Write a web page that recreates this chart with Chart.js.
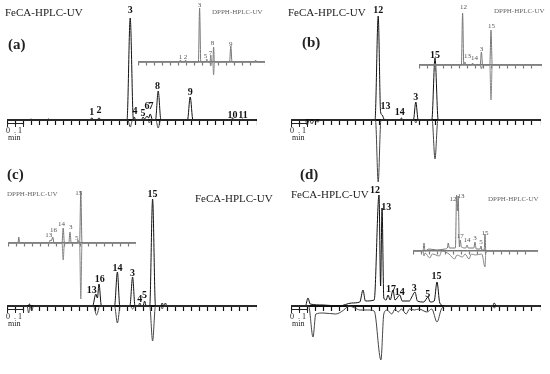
<!DOCTYPE html>
<html>
<head>
<meta charset="utf-8">
<script src="https://cdn.jsdelivr.net/npm/chart.js@4.4.1/dist/chart.umd.min.js"></script>
<style>
body{margin:0;background:#fff;width:550px;height:374px;position:relative;overflow:hidden;font-family:"Liberation Serif","Times New Roman",serif;}
.box{position:absolute;}
.t{position:absolute;white-space:nowrap;line-height:1;color:#222;}
.feca{font-size:11px;}
.dpph{font-size:7px;color:#666;}
.pan{font-size:15px;font-weight:bold;}
.bar{position:absolute;width:15px;height:3px;border:1px solid #222;border-bottom:none;}
.bar:after{content:"";position:absolute;left:7px;top:0;width:1px;height:3px;background:#222;}
.sm{position:absolute;font-size:8px;line-height:1;color:#222;}
</style>
</head>
<body>
<canvas id="aMain" class="box" width="250" height="180" style="left:7px;top:0"></canvas>
<canvas id="aInset" class="box" width="127" height="90" style="left:138px;top:0"></canvas>
<canvas id="bMain" class="box" width="250" height="200" style="left:291px;top:0"></canvas>
<canvas id="bInset" class="box" width="123" height="110" style="left:419px;top:0"></canvas>
<canvas id="cMain" class="box" width="250" height="194" style="left:7px;top:180px"></canvas>
<canvas id="cInset" class="box" width="128" height="130" style="left:8px;top:180px"></canvas>
<canvas id="dMain" class="box" width="250" height="194" style="left:291px;top:180px"></canvas>
<canvas id="dInset" class="box" width="125" height="100" style="left:413px;top:180px"></canvas>

<div class="t feca" style="left:5px;top:7px">FeCA-HPLC-UV</div>
<div class="t dpph" style="left:212px;top:9px">DPPH-HPLC-UV</div>
<div class="t pan" style="left:8px;top:37px">(a)</div>
<div class="t feca" style="left:288px;top:7px">FeCA-HPLC-UV</div>
<div class="t dpph" style="left:494px;top:8px">DPPH-HPLC-UV</div>
<div class="t pan" style="left:302px;top:35px">(b)</div>
<div class="t pan" style="left:7px;top:167px">(c)</div>
<div class="t dpph" style="left:7px;top:191px">DPPH-HPLC-UV</div>
<div class="t feca" style="left:195px;top:193px">FeCA-HPLC-UV</div>
<div class="t pan" style="left:300px;top:167px">(d)</div>
<div class="t feca" style="left:291px;top:189px">FeCA-HPLC-UV</div>
<div class="t dpph" style="left:488px;top:196px">DPPH-HPLC-UV</div>

<div class="bar" style="left:7px;top:123px"></div>
<div class="sm" style="left:6px;top:127px">0&nbsp;&nbsp;.&nbsp;1</div>
<div class="sm" style="left:8px;top:134px">min</div>
<div class="bar" style="left:291px;top:123px"></div>
<div class="sm" style="left:290px;top:127px">0&nbsp;&nbsp;.&nbsp;1</div>
<div class="sm" style="left:292px;top:134px">min</div>
<div class="bar" style="left:7px;top:309px"></div>
<div class="sm" style="left:6px;top:313px">0&nbsp;&nbsp;.&nbsp;1</div>
<div class="sm" style="left:8px;top:320px">min</div>
<div class="bar" style="left:291px;top:309px"></div>
<div class="sm" style="left:290px;top:313px">0&nbsp;&nbsp;.&nbsp;1</div>
<div class="sm" style="left:292px;top:320px">min</div>

<script>
// traces as [time (min), signal]; FeCA = main, DPPH = inset
const aFeca = [[0,0],[1.4,0],[1.5,1],[1.6,0],[2.5,0],[2.6,1],[2.7,0],[5.15,0],[5.3,2],[5.45,0],[5.6,0],[5.75,2],[5.9,0],[7.5,0],[7.7,102],[7.9,0],[7.95,3],[8.05,0],[8.4,0],[8.5,3],[8.6,1],[8.75,4],[8.85,2],[8.95,6],[9.1,0],[9.28,0],[9.45,29],[9.62,0],[11.28,0],[11.45,23],[11.62,0],[14.0,0],[14.1,2],[14.2,0],[14.6,0],[14.7,1],[14.8,0],[15.6,0]];
const aFecaNeg = [[0,0],[7.55,0],[7.7,-7],[7.85,0],[8.8,0],[8.9,-3],[9.0,0],[9.3,0],[9.45,-8],[9.6,0],[15.6,0]];
const aDpph = [[0,0],[5.2,0],[5.3,2],[5.4,0],[5.85,0],[5.95,2],[6.05,0],[7.55,0],[7.7,54],[7.85,0],[8.5,0],[8.6,3],[8.7,0],[9.0,0],[9.1,7],[9.2,0],[9.35,0],[9.45,15],[9.55,0],[11.45,0],[11.6,16],[11.75,0],[14.6,0],[14.7,2],[14.8,0],[15.9,0]];
const aDpphNeg = [[0,0],[9.0,0],[9.1,-4],[9.2,0],[9.35,0],[9.45,-13],[9.55,0],[15.9,0]];

const bFeca = [[0,0],[5.25,0],[5.45,104],[5.6,8],[5.7,5],[5.85,0],[6.8,0],[6.9,2],[7.0,0],[7.65,0],[7.8,18],[7.95,0],[8.8,0],[9.0,62],[9.2,0],[15.6,0]];
const bFecaNeg = [[0,0],[0.9,0],[1.0,-5],[1.15,0],[1.3,-4],[1.45,0],[1.7,-2],[1.8,0],[5.28,0],[5.45,-62],[5.62,0],[7.7,0],[7.8,-3],[7.9,0],[8.82,0],[9.0,-39],[9.18,0],[15.6,0]];
const bDpph = [[0,0],[5.3,0],[5.45,52],[5.6,0],[5.75,3],[5.9,0],[6.6,0],[6.7,2],[6.8,0],[7.65,0],[7.8,13],[7.95,0],[8.85,0],[9.0,35],[9.15,0],[15.4,0]];
const bDpphNeg = [[0,0],[7.65,0],[7.8,-4],[7.95,0],[8.85,0],[9.0,-35],[9.15,0],[15.4,0]];

const cFeca = [[0,0],[1.3,0],[1.4,2],[1.5,0],[5.35,0],[5.55,12],[5.65,8],[5.75,22],[5.9,0],[6.72,0],[6.9,34],[7.05,0],[7.68,0],[7.85,29],[8.0,0],[8.2,0],[8.3,3],[8.4,0],[8.5,0],[8.6,5],[8.7,0],[8.92,0],[9.1,107],[9.28,0],[9.6,0],[9.7,3],[9.8,0],[9.9,3],[10.0,0],[15.6,0]];
const cFecaNeg = [[0,0],[1.25,0],[1.35,-7],[1.45,0],[1.55,-5],[1.65,0],[5.4,0],[5.6,-9],[5.8,0],[6.72,0],[6.9,-17],[7.08,0],[7.7,0],[7.85,-3],[8.0,0],[8.92,0],[9.1,-35],[9.28,0],[9.6,0],[9.7,-3],[9.8,0],[15.6,0]];
const cDpph = [[0,0],[1.25,0],[1.35,6],[1.45,0],[5.15,0],[5.25,3],[5.4,2],[5.6,6],[5.75,0],[6.75,0],[6.9,15],[7.05,0],[7.6,0],[7.75,11],[7.9,0],[8.65,0],[8.75,3],[8.85,0],[8.95,0],[9.1,52],[9.25,0],[16,0]];
const cDpphNeg = [[0,0],[6.75,0],[6.9,-17],[7.05,0],[8.95,0],[9.1,-56],[9.25,0],[16,0]];

const dFeca = [[0,0],[0.9,0],[1.06,8],[1.2,2],[2.0,1],[3.0,0],[3.8,3],[4.3,4],[4.5,16],[4.65,5],[5.2,6],[5.5,111],[5.6,20],[5.69,98],[5.8,8],[5.95,6],[6.06,11],[6.2,6],[6.375,16],[6.5,6],[6.8,11],[6.95,5],[7.4,5],[7.55,9],[7.75,14],[7.9,5],[8.3,4],[8.56,9],[8.7,4],[8.95,5],[9.125,24],[9.3,3],[9.6,0],[12.6,0],[12.7,3],[12.85,0],[15.6,0]];
const dFecaNeg = [[0,0],[1.1,0],[1.375,-31],[1.55,-8],[2.0,-7],[2.8,-8],[3.3,-4],[3.6,0],[4.0,-2],[4.3,-4],[4.8,-4],[5.2,-5],[5.62,-54],[5.8,-8],[6.0,-4],[6.3,-8],[6.5,-3],[6.7,-6],[6.9,-3],[7.2,-8],[7.4,-3],[7.7,-4],[8.0,-3],[8.5,-6],[8.8,-3],[9.125,-16],[9.4,-3],[9.7,0],[12.6,0],[12.7,-2],[12.85,0],[15.6,0]];
const dDpph = [[0,0],[1.25,0],[1.375,8],[1.5,0],[2.0,2],[3.0,1],[4.0,2],[4.3,3],[4.4,8],[4.55,3],[5.3,3],[5.45,56],[5.55,40],[5.65,55],[5.8,4],[5.9,11],[6.05,4],[6.6,3],[6.75,6],[6.9,3],[7.6,3],[7.75,9],[7.9,2],[8.4,2],[8.5,5],[8.6,1],[8.9,1],[9.0,17],[9.1,0],[15.6,0]];
const dDpphNeg = [[0,0],[1.25,0],[1.375,-5],[1.5,-2],[2.1,-7],[2.4,-3],[3.3,-5],[3.6,0],[4.5,-3],[5.2,-8],[5.5,-4],[6.2,-6],[6.5,-3],[7.0,-8],[7.3,-3],[7.8,-4],[8.6,-3],[9.0,-16],[9.1,-2],[9.4,0],[15.6,0]];

// peak numbers: [text, time, height where the label sits]
const aFecaPeaks = [['1',5.3,8],['2',5.75,10],['3',7.7,110],['4',8.0,9],['5',8.5,7],['6',8.75,14],['7',9.0,14],['8',9.4,34],['9',11.45,28],['10',14.1,5],['11',14.75,5]];
const aDpphPeaks = [['3',7.7,57],['8',9.3,19],['9',11.6,18],['7',9.05,9],['5',8.45,6],['1',5.3,5],['2',5.95,5]];
const bFecaPeaks = [['12',5.45,110],['13',5.9,14],['14',6.8,8],['3',7.8,23],['15',9.0,65]];
const bDpphPeaks = [['12',5.55,58],['15',9.05,39],['13',6.05,9],['14',6.95,7],['3',7.8,16]];
const cFecaPeaks = [['15',9.1,112],['14',6.9,38],['3',7.85,33],['16',5.8,27],['13',5.3,16],['4',8.3,7],['5',8.6,11]];
const cDpphPeaks = [['15',8.85,50],['14',6.7,19],['3',7.85,16],['16',5.7,13],['13',5.1,8],['5',8.6,5]];
const dFecaPeaks = [['12',5.25,116],['13',5.95,99],['17',6.25,17],['14',6.8,14],['3',7.7,18],['5',8.55,12],['15',9.1,30]];
const dDpphPeaks = [['12',5.0,52],['13',6.0,55],['17',5.9,15],['14',6.75,11],['3',7.75,13],['5',8.5,9],['15',9.0,18]];

const peakLabels = {
    id: 'peakLabels',
    afterDatasetsDraw(chart, args, opts) {
        const { ctx, scales: { x, y } } = chart;
        ctx.save();
        ctx.font = opts.font;
        ctx.fillStyle = opts.color;
        ctx.textAlign = 'center';
        ctx.textBaseline = 'middle';
        opts.items.forEach(([txt, t, v]) => ctx.fillText(txt, x.getPixelForValue(t), y.getPixelForValue(v)));
        ctx.restore();
    }
};

const toXY = (arr) => arr.map(([x, y]) => ({ x, y }));

// one chromatogram: positive trace up, negative trace down, baseline = x axis at y = 0
const drawTrace = (id, pos, neg, peaks, cfg) => {
    new Chart(document.getElementById(id), {
        type: 'line',
        data: {
            datasets: [
                { data: toXY(neg), borderColor: cfg.negColor, borderWidth: 1, pointRadius: 0, cubicInterpolationMode: 'monotone' },
                { data: toXY(pos), borderColor: cfg.color, borderWidth: 1, pointRadius: 0, cubicInterpolationMode: 'monotone' },
            ],
        },
        options: {
            responsive: false,
            animation: false,
            layout: { padding: 0 },
            plugins: {
                legend: { display: false },
                tooltip: { enabled: false },
                peakLabels: { items: peaks, font: cfg.font, color: cfg.labelColor },
            },
            scales: {
                x: {
                    type: 'linear', min: 0, max: cfg.xMax,
                    position: { y: 0 },
                    afterFit: (s) => { s.height = 0; },
                    ticks: { display: false, stepSize: cfg.step },
                    grid: { drawOnChartArea: false, drawTicks: true, tickLength: cfg.tick, tickWidth: 1.2, color: cfg.axisColor },
                    border: { display: true, color: cfg.axisColor, width: cfg.axisWidth },
                },
                y: { display: false, min: cfg.yMin, max: cfg.yMax },
            },
        },
        plugins: [peakLabels],
    });
};

const mainCfg = { color: '#111', negColor: '#444', labelColor: '#111', font: 'bold 10px "Liberation Serif", serif', axisColor: '#111', axisWidth: 2, tick: 4, step: 0.5 };
const insetCfg = { color: '#777', negColor: '#888', labelColor: '#555', font: '7px "Liberation Serif", serif', axisColor: '#777', axisWidth: 1.5, tick: 3, step: 1 };

drawTrace('aMain', aFeca, aFecaNeg, aFecaPeaks, { ...mainCfg, xMax: 15.625, yMin: -60, yMax: 120 });
drawTrace('bMain', bFeca, bFecaNeg, bFecaPeaks, { ...mainCfg, xMax: 15.625, yMin: -80, yMax: 120 });
drawTrace('cMain', cFeca, cFecaNeg, cFecaPeaks, { ...mainCfg, xMax: 15.625, yMin: -68, yMax: 126 });
drawTrace('dMain', dFeca, dFecaNeg, dFecaPeaks, { ...mainCfg, xMax: 15.625, yMin: -68, yMax: 126 });
drawTrace('aInset', aDpph, aDpphNeg, aDpphPeaks, { ...insetCfg, xMax: 15.875, yMin: -28, yMax: 62 });
drawTrace('bInset', bDpph, bDpphNeg, bDpphPeaks, { ...insetCfg, xMax: 15.375, yMin: -45, yMax: 65 });
drawTrace('cInset', cDpph, cDpphNeg, cDpphPeaks, { ...insetCfg, xMax: 16, yMin: -67, yMax: 63 });
drawTrace('dInset', dDpph, dDpphNeg, dDpphPeaks, { ...insetCfg, xMax: 15.625, yMin: -29, yMax: 71 });
</script>
</body>
</html>
